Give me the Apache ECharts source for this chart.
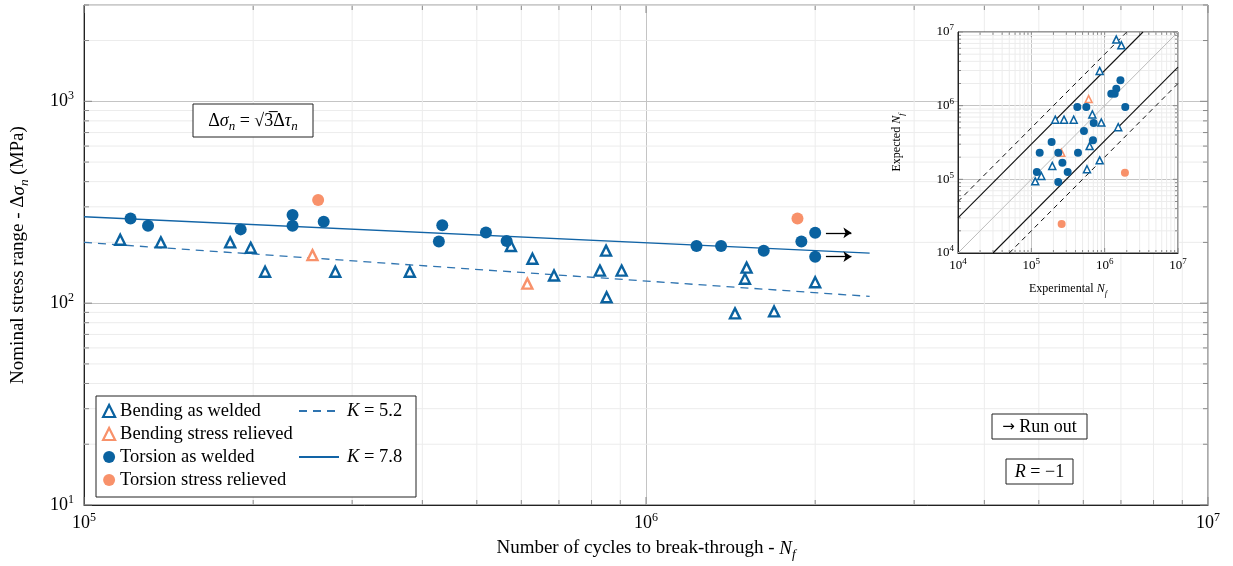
<!DOCTYPE html>
<html>
<head>
<meta charset="utf-8">
<script src="https://cdn.jsdelivr.net/npm/echarts@6/dist/echarts.min.js"></script>
<style>
  html, body { margin: 0; padding: 0; background: #fff; }
  #chart { width: 1233px; height: 566px; }
</style>
</head>
<body>
<div id="chart"></div>
<script>
// main S-N plot, [cycles, stress range (MPa)]
const bendingWelded = [
  [1.16e5, 206], [1.37e5, 200], [1.82e5, 200], [1.98e5, 188], [2.1e5, 143],
  [2.8e5, 143], [3.8e5, 143], [5.75e5, 192], [6.28e5, 166], [6.86e5, 137],
  [8.28e5, 145], [8.49e5, 182], [9.05e5, 145], [8.51e5, 107], [1.51e6, 150],
  [1.5e6, 132], [2.0e6, 127], [1.44e6, 89], [1.69e6, 91]
];
const bendingRelieved = [[2.55e5, 173], [6.15e5, 125]];
const torsionWelded = [
  [1.21e5, 263], [1.3e5, 242], [1.9e5, 232], [2.35e5, 273], [2.35e5, 242],
  [2.67e5, 253], [4.34e5, 243], [4.28e5, 202], [5.19e5, 224], [5.65e5, 203],
  [1.23e6, 192], [1.36e6, 192], [1.62e6, 182], [1.89e6, 202]
];
const runOut = [[2.0e6, 223], [2.0e6, 170]];
const torsionRelieved = [[2.61e5, 324], [1.86e6, 263]];
const fitK52 = [[1e5, 200], [2.5e6, 108]];
const fitK78 = [[1e5, 268], [2.5e6, 177]];

// inset, [experimental Nf, expected Nf]
const insetBendingWelded = [
  [1.44e6, 7.9e6], [1.69e6, 6.6e6], [8.55e5, 2.96e6], [2.12e5, 6.46e5], [2.79e5, 6.46e5],
  [3.78e5, 6.46e5], [6.79e5, 7.6e5], [9.0e5, 5.9e5], [1.53e6, 5.1e5], [6.24e5, 2.83e5],
  [1.93e5, 1.52e5], [8.55e5, 1.81e5], [5.74e5, 1.37e5], [1.13e5, 9.4e4], [1.37e5, 1.11e5]
];
const insetBendingRelieved = [[6.05e5, 1.23e6], [2.56e5, 2.3e5]];
const insetTorsionWelded = [
  [1.64e6, 2.21e6], [1.44e6, 1.7e6], [1.23e6, 1.45e6], [1.37e6, 1.45e6], [1.91e6, 9.6e5],
  [4.24e5, 9.6e5], [5.62e5, 9.6e5], [7.08e5, 5.82e5], [5.22e5, 4.53e5], [6.93e5, 3.38e5],
  [1.89e5, 3.21e5], [1.3e5, 2.3e5], [2.33e5, 2.3e5], [4.33e5, 2.3e5], [2.65e5, 1.68e5],
  [1.19e5, 1.26e5], [3.13e5, 1.26e5], [2.33e5, 9.2e4]
];
const insetTorsionRelieved = [[1.89e6, 1.23e5], [2.59e5, 2.48e4]];
const diagEqual = [[1e4, 1e4], [1e7, 1e7]];
const band3Upper = [[1e4, 3e4], [3.33e6, 1e7]];
const band3Lower = [[3e4, 1e4], [1e7, 3.33e6]];
const band5Upper = [[1e4, 5e4], [2e6, 1e7]];
const band5Lower = [[5e4, 1e4], [1e7, 2e6]];

// tick positions
const mults = [1, 2, 3, 4, 5, 6, 7, 8, 9];
const ticksFrom = (decades, lo, hi) => {
  const out = [];
  decades.forEach(d => mults.forEach(m => { const v = m * d; if (v >= lo && v <= hi) out.push(v); }));
  return out;
};
const mainXTicks = ticksFrom([1e5, 1e6, 1e7], 1e5, 1e7);
const mainYTicks = ticksFrom([10, 100, 1000], 10, 3000);
const insetTicks = ticksFrom([1e4, 1e5, 1e6, 1e7], 1e4, 1e7);

const BLUE = '#0a62a0';
const ORANGE = '#f8916a';
const FONT = '"Liberation Serif", "DejaVu Serif", serif';

const isPow = v => Math.abs(Math.log10(v) - Math.round(Math.log10(v))) < 1e-6;
const powLabel = v => isPow(v) ? '{b|10}{s|' + Math.round(Math.log10(v)) + '}' : '';
const supRich = (big, small) => ({
  b: { fontSize: big, fontFamily: FONT, color: '#000', lineHeight: big + 4 },
  s: { fontSize: small, fontFamily: FONT, color: '#000', lineHeight: small, verticalAlign: 'top' }
});
const nameRich = (size) => ({
  i: { fontSize: size, fontFamily: FONT, fontStyle: 'italic', color: '#000', lineHeight: size + 6 },
  sub: { fontSize: size * 0.7, fontFamily: FONT, fontStyle: 'italic', color: '#000', lineHeight: size * 0.7, verticalAlign: 'bottom' }
});

// minor grid lines and inward ticks on all four sides
function tickSeries(xi, xs, ys, xr, yr, minorLen, majorLen, gridColor, z) {
  const data = xs.map(v => [v, yr[0], 0]).concat(ys.map(v => [xr[0], v, 1]));
  const seg = (x1, y1, x2, y2, c) => ({ type: 'line', shape: { x1, y1, x2, y2 }, style: { stroke: c, lineWidth: 1 } });
  return {
    type: 'custom', xAxisIndex: xi, yAxisIndex: xi, z, silent: true, clip: false,
    data,
    renderItem: (params, api) => {
      const vertical = api.value(2) === 0;
      const v = vertical ? api.value(0) : api.value(1);
      const maj = isPow(v);
      const len = maj ? majorLen : minorLen;
      const kids = [];
      if (vertical) {
        const a = api.coord([v, yr[0]]), b = api.coord([v, yr[1]]);
        if (!maj) kids.push(seg(a[0], a[1], b[0], b[1], gridColor));
        kids.push(seg(a[0], a[1], a[0], a[1] - len, '#888'));
        kids.push(seg(b[0], b[1], b[0], b[1] + len, '#888'));
      } else {
        const a = api.coord([xr[0], v]), b = api.coord([xr[1], v]);
        if (!maj) kids.push(seg(a[0], a[1], b[0], b[1], gridColor));
        kids.push(seg(a[0], a[1], a[0] + len, a[1], '#888'));
        kids.push(seg(b[0], b[1], b[0] - len, b[1], '#888'));
      }
      return { type: 'group', children: kids };
    }
  };
}

const chart = echarts.init(document.getElementById('chart'));
chart.setOption({
  animation: false,
  backgroundColor: '#fff',
  grid: [
    { left: 84, top: 5, right: 25, bottom: 59, show: true, borderColor: '#555', borderWidth: 1 },
    { left: 958, top: 32, width: 220, height: 221, show: true, backgroundColor: '#fff', borderColor: '#333', borderWidth: 1, z: 5 }
  ],
  xAxis: [
    {
      type: 'log', logBase: 10, min: 1e5, max: 1e7, gridIndex: 0,
      axisLine: { show: true, onZero: false, lineStyle: { color: '#222' } },
      axisTick: { show: false },
      splitLine: { show: true, lineStyle: { color: '#c4c4c4' } },
      axisLabel: { formatter: powLabel, rich: supRich(18, 12), margin: 7, showMinLabel: true, showMaxLabel: true },
      name: 'Number of cycles to break-through - {i|N}{sub|f}',
      nameLocation: 'middle', nameGap: 31,
      nameTextStyle: { fontSize: 19, fontFamily: FONT, color: '#000', rich: nameRich(19) }
    },
    {
      type: 'log', logBase: 10, min: 1e4, max: 1e7, gridIndex: 1, z: 6,
      axisLine: { show: true, onZero: false, lineStyle: { color: '#222' } },
      axisTick: { show: false },
      splitLine: { show: true, lineStyle: { color: '#c4c4c4' } },
      axisLabel: { formatter: powLabel, rich: supRich(13, 9), margin: 4, showMinLabel: true, showMaxLabel: true },
      name: 'Experimental {i|N}{sub|f}',
      nameLocation: 'middle', nameGap: 27,
      nameTextStyle: { fontSize: 12, fontFamily: FONT, color: '#000', rich: nameRich(12) }
    }
  ],
  yAxis: [
    {
      type: 'log', logBase: 10, min: 10, max: 3000, gridIndex: 0,
      axisLine: { show: true, onZero: false, lineStyle: { color: '#222' } },
      axisTick: { show: false },
      splitLine: { show: true, lineStyle: { color: '#c4c4c4' } },
      axisLabel: { formatter: powLabel, rich: supRich(18, 12), margin: 10, showMinLabel: true, showMaxLabel: false },
      name: 'Nominal stress range - Δ{i|σ}{sub|n} (MPa)',
      nameLocation: 'middle', nameGap: 53,
      nameTextStyle: { fontSize: 19, fontFamily: FONT, color: '#000', rich: nameRich(19) }
    },
    {
      type: 'log', logBase: 10, min: 1e4, max: 1e7, gridIndex: 1, z: 6,
      axisLine: { show: true, onZero: false, lineStyle: { color: '#222' } },
      axisTick: { show: false },
      splitLine: { show: true, lineStyle: { color: '#c4c4c4' } },
      axisLabel: { formatter: powLabel, rich: supRich(13, 9), margin: 4, showMinLabel: true, showMaxLabel: true },
      name: 'Expected {i|N}{sub|f}',
      nameLocation: 'middle', nameGap: 52,
      nameTextStyle: { fontSize: 12, fontFamily: FONT, color: '#000', rich: nameRich(12) }
    }
  ],
  legend: [
    {
      left: 102, top: 401, orient: 'vertical', padding: 0, itemGap: 3, itemWidth: 12, itemHeight: 12, z: 12,
      textStyle: { fontSize: 18.5, fontFamily: FONT, color: '#000', lineHeight: 20 },
      data: [
        { name: 'Bending as welded', icon: 'triangle', itemStyle: { color: '#fff', borderColor: BLUE, borderWidth: 2.2, opacity: 1 } },
        { name: 'Bending stress relieved', icon: 'triangle', itemStyle: { color: '#fff', borderColor: ORANGE, borderWidth: 2.2, opacity: 1 } },
        { name: 'Torsion as welded', icon: 'circle', itemStyle: { color: BLUE, opacity: 1 } },
        { name: 'Torsion stress relieved', icon: 'circle', itemStyle: { color: ORANGE, opacity: 1 } }
      ]
    },
    {
      left: 298, top: 401, orient: 'vertical', padding: 0, itemGap: 26, itemWidth: 40, itemHeight: 12, z: 12,
      textStyle: { fontSize: 18.5, fontFamily: FONT, color: '#000', lineHeight: 20, padding: [0, 0, 0, 3], rich: { i: { fontSize: 18.5, fontFamily: FONT, fontStyle: 'italic', color: '#000' } } },
      formatter: n => n.replace('K', '{i|K}'),
      data: [
        { name: 'K = 5.2', itemStyle: { opacity: 0 } },
        { name: 'K = 7.8', itemStyle: { opacity: 0 } }
      ]
    }
  ],
  graphic: [
    { type: 'rect', z: 10, shape: { x: 96, y: 396, width: 320, height: 101 }, style: { fill: '#fff', stroke: '#222', lineWidth: 1 } },
    { type: 'rect', z: 10, shape: { x: 193, y: 104, width: 120, height: 33 }, style: { fill: '#fff', stroke: '#222', lineWidth: 1 } },
    {
      type: 'text', z: 11, x: 253, y: 121,
      style: {
        text: 'Δ{i|σ}{sub|n} = √3̅Δ{i|τ}{sub|n}', align: 'center', verticalAlign: 'middle',
        fontSize: 18, fontFamily: FONT, fill: '#000',
        rich: {
          i: { fontSize: 18, fontFamily: FONT, fontStyle: 'italic', lineHeight: 24 },
          sub: { fontSize: 13, fontFamily: FONT, fontStyle: 'italic', lineHeight: 13, verticalAlign: 'bottom' }
        }
      }
    },
    { type: 'rect', z: 10, shape: { x: 992, y: 414, width: 95, height: 25 }, style: { fill: '#fff', stroke: '#222', lineWidth: 1 } },
    {
      type: 'text', z: 11, x: 1039.5, y: 427,
      style: {
        text: '{a|→} Run out', align: 'center', verticalAlign: 'middle', fontSize: 18, fontFamily: FONT, fill: '#000',
        rich: { a: { fontSize: 15, fontFamily: '"DejaVu Sans", sans-serif', lineHeight: 20, verticalAlign: 'middle' } }
      }
    },
    { type: 'rect', z: 10, shape: { x: 1006, y: 459, width: 67, height: 25 }, style: { fill: '#fff', stroke: '#222', lineWidth: 1 } },
    {
      type: 'text', z: 11, x: 1039.5, y: 472,
      style: { text: '{i|R} = −1', align: 'center', verticalAlign: 'middle', fontSize: 18, fontFamily: FONT, fill: '#000', rich: { i: { fontSize: 18, fontFamily: FONT, fontStyle: 'italic' } } }
    }
  ],
  series: [
    tickSeries(0, mainXTicks, mainYTicks, [1e5, 1e7], [10, 3000], 5, 8, '#ececec', 1),
    {
      name: 'K = 5.2', type: 'line', xAxisIndex: 0, yAxisIndex: 0, data: fitK52, symbol: 'none', z: 3,
      itemStyle: { color: '#2f74b0' },
      lineStyle: { color: '#2f74b0', width: 1.3, type: [8, 6] }
    },
    {
      name: 'K = 7.8', type: 'line', xAxisIndex: 0, yAxisIndex: 0, data: fitK78, symbol: 'none', z: 3,
      itemStyle: { color: '#1264a6' },
      lineStyle: { color: '#1264a6', width: 1.4 }
    },
    {
      name: 'Bending as welded', type: 'scatter', xAxisIndex: 0, yAxisIndex: 0, data: bendingWelded, z: 4,
      symbol: 'triangle', symbolSize: 10, itemStyle: { color: '#fff', borderColor: BLUE, borderWidth: 2.4, opacity: 1 }
    },
    {
      name: 'Bending stress relieved', type: 'scatter', xAxisIndex: 0, yAxisIndex: 0, data: bendingRelieved, z: 4,
      symbol: 'triangle', symbolSize: 10, itemStyle: { color: '#fff', borderColor: ORANGE, borderWidth: 2.4, opacity: 1 }
    },
    {
      name: 'Torsion as welded', type: 'scatter', xAxisIndex: 0, yAxisIndex: 0, data: torsionWelded.concat(runOut), z: 4,
      symbol: 'circle', symbolSize: 12, itemStyle: { color: BLUE, opacity: 1 },
      markLine: {
        silent: true, symbol: ['none', 'arrow'], symbolSize: 8, label: { show: false },
        lineStyle: { color: '#000', type: 'solid', width: 1.3 },
        data: runOut.map(p => [{ coord: [p[0] * 1.045, p[1]] }, { coord: [p[0] * 1.16, p[1]] }])
      }
    },
    {
      name: 'Torsion stress relieved', type: 'scatter', xAxisIndex: 0, yAxisIndex: 0, data: torsionRelieved, z: 4,
      symbol: 'circle', symbolSize: 12, itemStyle: { color: ORANGE, opacity: 1 }
    },
    tickSeries(1, insetTicks, insetTicks, [1e4, 1e7], [1e4, 1e7], 3, 5, '#ececec', 6),
    { name: 'diag', type: 'line', xAxisIndex: 1, yAxisIndex: 1, data: diagEqual, symbol: 'none', z: 7, lineStyle: { color: '#bbb', width: 1 } },
    { name: 'band3u', type: 'line', xAxisIndex: 1, yAxisIndex: 1, data: band3Upper, symbol: 'none', z: 7, lineStyle: { color: '#111', width: 1.1 } },
    { name: 'band3l', type: 'line', xAxisIndex: 1, yAxisIndex: 1, data: band3Lower, symbol: 'none', z: 7, lineStyle: { color: '#111', width: 1.1 } },
    { name: 'band5u', type: 'line', xAxisIndex: 1, yAxisIndex: 1, data: band5Upper, symbol: 'none', z: 7, lineStyle: { color: '#111', width: 1, type: [5, 4] } },
    { name: 'band5l', type: 'line', xAxisIndex: 1, yAxisIndex: 1, data: band5Lower, symbol: 'none', z: 7, lineStyle: { color: '#111', width: 1, type: [5, 4] } },
    {
      name: 'inset bw', type: 'scatter', xAxisIndex: 1, yAxisIndex: 1, data: insetBendingWelded, z: 8,
      symbol: 'triangle', symbolSize: 7, itemStyle: { color: '#fff', borderColor: BLUE, borderWidth: 1.5, opacity: 1 }
    },
    {
      name: 'inset br', type: 'scatter', xAxisIndex: 1, yAxisIndex: 1, data: insetBendingRelieved, z: 8,
      symbol: 'triangle', symbolSize: 7, itemStyle: { color: '#fff', borderColor: ORANGE, borderWidth: 1.5, opacity: 1 }
    },
    {
      name: 'inset tw', type: 'scatter', xAxisIndex: 1, yAxisIndex: 1, data: insetTorsionWelded, z: 8,
      symbol: 'circle', symbolSize: 8, itemStyle: { color: BLUE, opacity: 1 }
    },
    {
      name: 'inset tr', type: 'scatter', xAxisIndex: 1, yAxisIndex: 1, data: insetTorsionRelieved, z: 8,
      symbol: 'circle', symbolSize: 8, itemStyle: { color: ORANGE, opacity: 1 }
    }
  ]
});
window.addEventListener('resize', () => chart.resize());
</script>
</body>
</html>
